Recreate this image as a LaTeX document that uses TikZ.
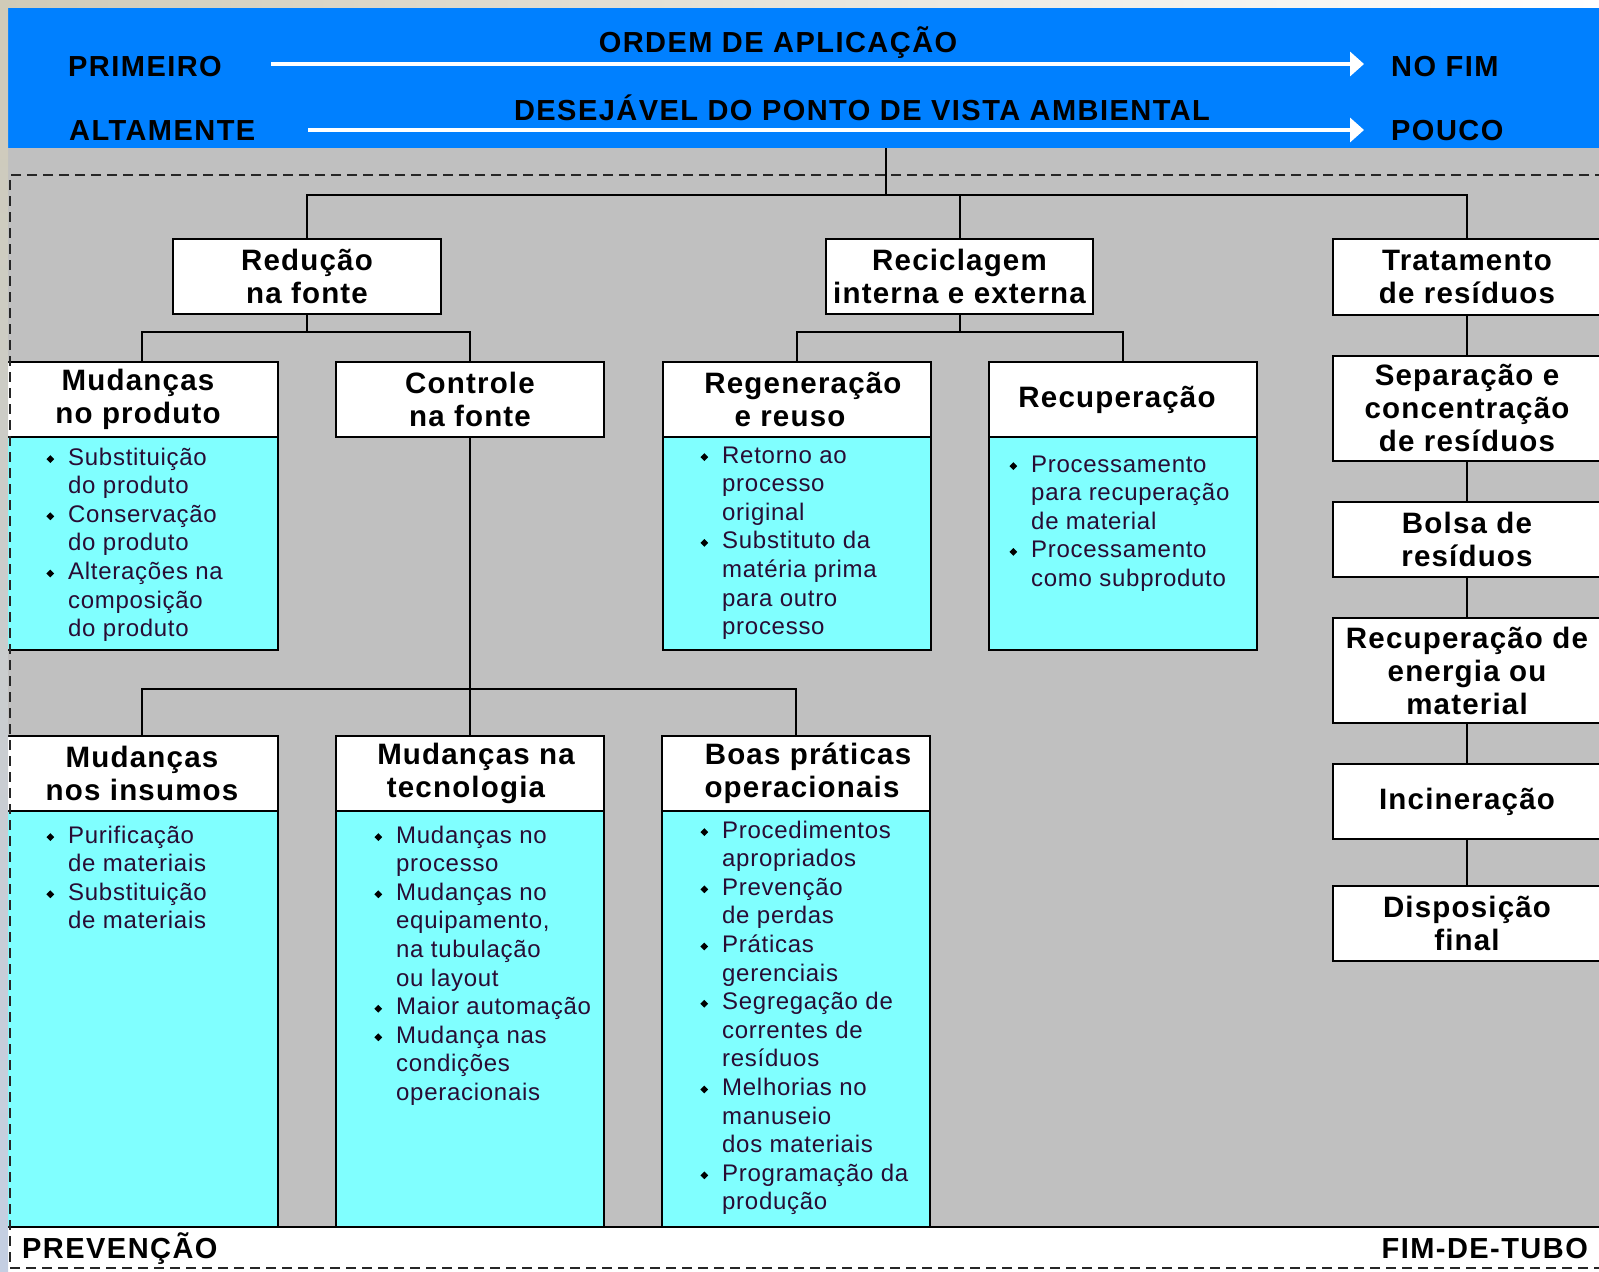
\documentclass[tikz,border=0pt]{standalone}
\usepackage{graphicx}
\usepackage{fontspec}
\setmainfont{Liberation Sans}
\newfontfamily\hdfam[LetterSpace=4]{Liberation Sans}
\newfontfamily\lsfam[LetterSpace=3]{Liberation Sans}
\newfontfamily\bdfam[LetterSpace=5]{Liberation Sans}
\usetikzlibrary{arrows.meta}

\definecolor{bandblue}{RGB}{0,128,255}
\definecolor{panelgray}{RGB}{192,192,192}
\definecolor{listcyan}{RGB}{128,255,255}
\definecolor{listtext}{RGB}{40,12,52}
\definecolor{stripbeige}{RGB}{208,203,184}
\definecolor{stripblue}{RGB}{196,206,226}

% text settings
\newcommand\hdtext{\hdfam\fontsize{29.5}{33}\selectfont\bfseries}
\newcommand\bandtext{\bdfam\fontsize{29}{34}\selectfont\bfseries}
% diamond bullet hanging left of the item text
\newcommand\bul{\leavevmode\llap{{\color{black}\raisebox{2pt}{\rotatebox{45}{\rule{5.5pt}{5.5pt}}}}\hspace{14pt}}}
% bullet list block whose baseline is its first line
\newcommand\itemlist[1]{\begin{minipage}[t]{270pt}\leavevmode\lsfam\fontsize{24}{28.6}\selectfont\color{listtext}#1\end{minipage}}
% shift one header line sideways
\newcommand\sft[2]{\hbox{\kern#1\relax#2\kern-#1\relax}}

\begin{document}
\begin{tikzpicture}[x=1pt,y=-1pt,
  link/.style={draw=black, line width=2pt},
  hd/.style={draw=black, line width=2pt, fill=white, align=center, inner sep=0pt, font=\hdtext},
  bd/.style={draw=black, line width=2pt, fill=listcyan, inner sep=0pt},
  lst/.style={anchor=base west, inner sep=0pt},
  bandlabel/.style={inner sep=0pt, font=\bandtext},
  bandarrow/.style={draw=white, line width=3.8pt, -{Triangle[length=14pt,width=24pt]}},
  frame/.style={draw=black!85, line width=2pt, dash pattern=on 10pt off 6pt}]

\useasboundingbox (0,0) rectangle (1599,1272);
\clip (0,0) rectangle (1599,1272);

% backdrop: blue heading band, gray panel, white footer strip
\fill[white] (0,0) rectangle (1599,1272);
\fill[bandblue] (8,7) rectangle (1599,148);
\fill[panelgray] (8,148) rectangle (1599,1227);

% connector anchors
\coordinate (bandfoot) at (886,148);
\coordinate (hub) at (886,195);
\coordinate (busA) at (0,332);
\coordinate (busB) at (0,689);

% boxes
\node[hd, minimum width=268, minimum height=75] (red) at (307,276.5) {Redução\\na fonte};
\node[hd, minimum width=267, minimum height=75] (rec) at (959.5,276.5) {Reciclagem\\interna e externa};
\node[hd, minimum width=268, minimum height=76] (trt) at (1467,277) {Tratamento\\de resíduos};

\node[bd, minimum width=272, minimum height=213] (mpb) at (142,543.5) {};
\node[hd, minimum width=272, minimum height=75] (mp) at (142,399.5) {\sft{-4pt}{Mudanças}\\\sft{-4pt}{no produto}};
\node[hd, minimum width=268, minimum height=75] (cf) at (470,399.5) {Controle\\na fonte};
\node[bd, minimum width=268, minimum height=213] (rgb) at (797,543.5) {};
\node[hd, minimum width=268, minimum height=75] (rg) at (797,399.5) {\sft{6pt}{Regeneração}\\\sft{-7pt}{e reuso}};
\node[bd, minimum width=268, minimum height=213] (rpb) at (1123,543.5) {};
\node[hd, minimum width=268, minimum height=75] (rp) at (1123,399.5) {\sft{-6pt}{Recuperação}};

\node[bd, minimum width=272, minimum height=416] (mib) at (142,1019) {};
\node[hd, minimum width=272, minimum height=75] (mi) at (142,773.5) {Mudanças\\nos insumos};
\node[bd, minimum width=268, minimum height=416] (mtb) at (470,1019) {};
\node[hd, minimum width=268, minimum height=75] (mt) at (470,773.5) {\sft{6pt}{Mudanças na}\\\sft{-4pt}{tecnologia}};
\node[bd, minimum width=268, minimum height=416] (bpb) at (796,1019) {};
\node[hd, minimum width=268, minimum height=75] (bp) at (796,773.5) {\sft{12pt}{Boas práticas}\\\sft{6pt}{operacionais}};

\node[hd, minimum width=268, minimum height=105] (sep) at (1467,408.5) {Separação e\\concentração\\de resíduos};
\node[hd, minimum width=268, minimum height=75] (bol) at (1467,539.5) {Bolsa de\\resíduos};
\node[hd, minimum width=268, minimum height=105] (rde) at (1467,670.5) {Recuperação de\\energia ou\\material};
\node[hd, minimum width=268, minimum height=75] (inc) at (1467,801.5) {Incineração};
\node[hd, minimum width=268, minimum height=75] (dis) at (1467,923.5) {Disposição\\final};

% connectors
\draw[link] (bandfoot) -- (hub);
\draw[link] (red.north) |- (hub) -| (trt.north);
\draw[link] (rec.north) -- (rec.north |- hub);
\draw[link] (red.south) -- (red.south |- busA);
\draw[link] (mp.north) |- (cf.north |- busA) -- (cf.north);
\draw[link] (rec.south) -- (rec.south |- busA);
\draw[link] (rg.north) |- (rp.north |- busA) -- (rp.north);
\draw[link] (cf.south) -- (cf.south |- busB);
\draw[link] (mi.north) |- (bp.north |- busB) -- (bp.north);
\draw[link] (mt.north) -- (mt.north |- busB);
\draw[link] (trt.south) -- (sep.north);
\draw[link] (sep.south) -- (bol.north);
\draw[link] (bol.south) -- (rde.north);
\draw[link] (rde.south) -- (inc.north);
\draw[link] (inc.south) -- (dis.north);

% bullet lists
\node[lst] (mpl) at (68,465) {\itemlist{\bul Substituição\\ do produto\\ \bul Conservação\\ do produto\\ \bul Alterações na\\ composição\\ do produto}};
\node[lst] (rgl) at (722,463) {\itemlist{\bul Retorno ao\\ processo\\ original\\ \bul Substituto da\\ matéria prima\\ para outro\\ processo}};
\node[lst] (rpl) at (1031,472) {\itemlist{\bul Processamento\\ para recuperação\\ de material\\ \bul Processamento\\ como subproduto}};
\node[lst] (mil) at (68,843) {\itemlist{\bul Purificação\\ de materiais\\ \bul Substituição\\ de materiais}};
\node[lst] (mtl) at (396,843) {\itemlist{\bul Mudanças no\\ processo\\ \bul Mudanças no\\ equipamento,\\ na tubulação\\ ou layout\\ \bul Maior automação\\ \bul Mudança nas\\ condições\\ operacionais}};
\node[lst] (bpl) at (722,838) {\itemlist{\bul Procedimentos\\ apropriados\\ \bul Prevenção\\ de perdas\\ \bul Práticas\\ gerenciais\\ \bul Segregação de\\ correntes de\\ resíduos\\ \bul Melhorias no\\ manuseio\\ dos materiais\\ \bul Programação da\\ produção}};

% footer strip edge
\draw[link] (8,1227) -- (1599,1227);

% outer margins
\shade[top color=stripbeige, bottom color=stripblue] (0,0) rectangle (8,1272);
\shade[left color=stripbeige, right color=white] (0,0) rectangle (1599,7);

% dashed frame
\draw[frame] (1605,175) -- (10,175) -- (10,1268) -- (1605,1268);

% heading band
\node[bandlabel, anchor=base west] (first) at (68,76) {PRIMEIRO};
\node[bandlabel, anchor=base west] (high) at (69,140) {ALTAMENTE};
\node[bandlabel, anchor=base west] (last) at (1391,76) {NO FIM};
\node[bandlabel, anchor=base west] (low) at (1391,140) {POUCO};
\node[bandlabel, anchor=base] (order) at (778,52) {ORDEM DE APLICAÇÃO};
\node[bandlabel, anchor=base] (desire) at (862,120) {DESEJÁVEL DO PONTO DE VISTA AMBIENTAL};
\coordinate (ordS) at (271,64);
\coordinate (ordE) at (1364,64);
\coordinate (desS) at (308,130);
\coordinate (desE) at (1364,130);
\draw[bandarrow] (ordS) -- (ordE);
\draw[bandarrow] (desS) -- (desE);

% footer labels
\node[bandlabel, anchor=base west] (prev) at (22,1258) {PREVENÇÃO};
\node[bandlabel, anchor=base east] (eop) at (1588,1258) {FIM-DE-TUBO};
\end{tikzpicture}
\end{document}
